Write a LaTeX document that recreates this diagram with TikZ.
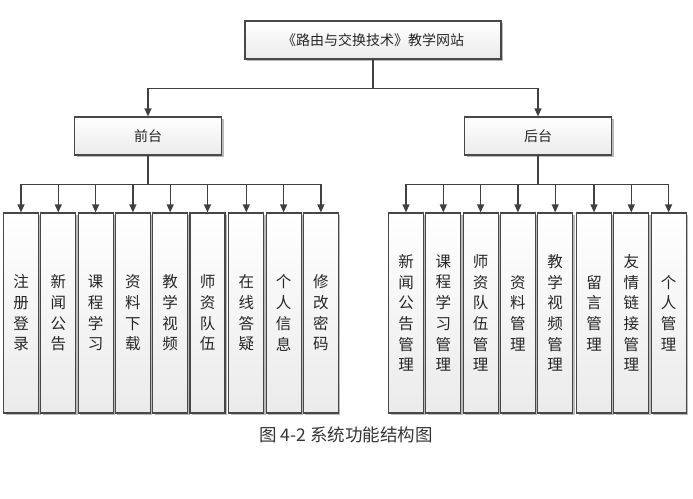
\documentclass[tikz,border=0pt]{standalone}
\usepackage{fontspec}
\setmainfont{Noto Sans CJK SC}
\usetikzlibrary{positioning,shadows,arrows.meta}

\begin{document}
\begin{tikzpicture}[x=1pt,y=-1pt,>={Triangle[length=8pt,width=7pt]},node distance=37.3pt,line width=1.2pt]
\tikzstyle{base box}=[rectangle,draw=black!72,top color=white,bottom color=black!8,text=black!85,
  drop shadow={shadow xshift=2pt,shadow yshift=-1.5pt,fill=black!45,opacity=0.6}]
\tikzstyle{module box}=[base box,minimum width=35pt,minimum height=200pt,inner sep=0pt,align=center,font=\fontsize{15.5}{20.7}\selectfont]

\tikzset{
	title box/.style={base box,minimum width=256pt,minimum height=38pt,font=\fontsize{14}{17}\selectfont},
	part box/.style={base box,minimum width=147pt,minimum height=38pt,font=\fontsize{14}{17}\selectfont},
	caption/.style={text=black!80,font=\fontsize{17.5}{20}\selectfont},
	bus edge/.style={draw=black!75,to path={(\tikztostart.south) -- ++(0,28.5) -| (\tikztotarget.north)}}
}
\useasboundingbox (0,0) rectangle (693,498);

      \node[title box] (site) at (373,40) {《路由与交换技术》教学网站};
      \node[part box] (front) at (148,136) {前台};
      \node[part box] (back) at (538,136) {后台};

      % front modules
      \node[module box] (f1) at (21,313) {注\\册\\登\\录};
      \node[module box] (f2) [right of=f1] {新\\闻\\公\\告};
      \node[module box] (f3) [right of=f2] {课\\程\\学\\习};
      \node[module box] (f4) [right of=f3] {资\\料\\下\\载};
      \node[module box] (f5) [right of=f4] {教\\学\\视\\频};
      \node[module box] (f6) [right of=f5] {师\\资\\队\\伍};
      \node[module box] (f7) [right of=f6,xshift=1.5pt] {在\\线\\答\\疑};
      \node[module box] (f8) [right of=f7] {个\\人\\信\\息};
      \node[module box] (f9) [right of=f8] {修\\改\\密\\码};

      % back modules
      \node[module box] (b1) at (406,313) {新\\闻\\公\\告\\管\\理};
      \node[module box] (b2) [right of=b1] {课\\程\\学\\习\\管\\理};
      \node[module box] (b3) [right of=b2] {师\\资\\队\\伍\\管\\理};
      \node[module box] (b4) [right of=b3] {资\\料\\管\\理};
      \node[module box] (b5) [right of=b4] {教\\学\\视\\频\\管\\理};
      \node[module box] (b6) [right of=b5,xshift=1.5pt] {留\\言\\管\\理};
      \node[module box] (b7) [right of=b6] {友\\情\\链\\接\\管\\理};
      \node[module box] (b8) [right of=b7] {个\\人\\管\\理};

      \node[caption] (cap) at (346,435) {图 4-2 系统功能结构图};

    \path[->]   (site) edge[bus edge] (front)
                (site) edge[bus edge] (back);
    \foreach \i in {1,...,9}
      \path[->] (front) edge[bus edge] (f\i);
    \foreach \i in {1,...,8}
      \path[->] (back) edge[bus edge] (b\i);
\end{tikzpicture}
\end{document}
